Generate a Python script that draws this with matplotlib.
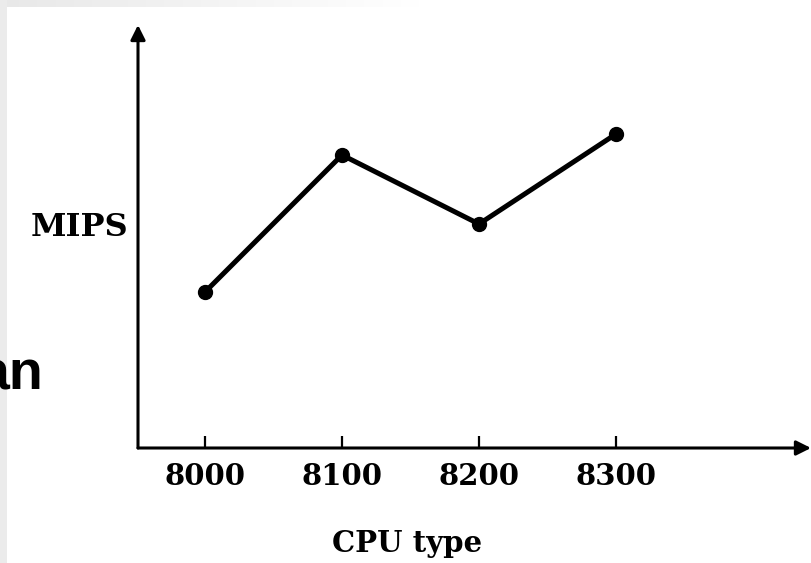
import matplotlib
matplotlib.use("Agg")
import matplotlib.pyplot as plt
import numpy as np
from matplotlib.colors import LinearSegmentedColormap

cpu_types = ["8000", "8100", "8200", "8300"]
mips = [3.12, 5.86, 4.48, 6.28]
x_label = "CPU type"
y_label = "MIPS"
side_text = "an"

W, H = 811, 563
fig = plt.figure(figsize=(W / 100, H / 100), dpi=100)
fig.patch.set_facecolor("white")

# scan-like gray border on left and top
bg = fig.add_axes([0, 0, 1, 1], zorder=-5)
bg.axis("off")
grad = np.linspace(0, 1, 256)[None, :]
cm = LinearSegmentedColormap.from_list("g", ["#e8e8e8", "#ffffff"])
bg.imshow(grad, extent=(0, 420, 7, 0), cmap=cm, aspect="auto")
bg.add_patch(plt.Rectangle((0, 0), 7, H, color="#ebebeb", lw=0))
bg.set_xlim(0, W)
bg.set_ylim(H, 0)
bg.text(43, 390, side_text, ha="right", va="baseline", fontsize=40,
        fontweight="bold", family="Liberation Sans", color="black")

# main axes
x0, x1 = 138, 811
y0, y1 = 448, 25
ax = fig.add_axes([x0 / W, (H - y0) / H, (x1 - x0) / W, (y0 - y1) / H])
ax.set_facecolor("none")
ax.set_xlim((x0 - 205) / 137, (x1 - 205) / 137)
ax.set_ylim(0, (y0 - y1) / 50)

xs = np.arange(len(cpu_types))
ax.plot(xs, mips, color="black", lw=3.6, marker="o", markersize=10,
        solid_joinstyle="round", solid_capstyle="round")

for s in ax.spines.values():
    s.set_visible(False)
ax.annotate("", xy=(1.0, 0), xytext=(0, 0), xycoords="axes fraction",
            arrowprops=dict(arrowstyle="-|>", lw=2.2, color="black",
                            mutation_scale=22, shrinkA=0, shrinkB=0))
ax.annotate("", xy=(0, 1.0), xytext=(0, 0), xycoords="axes fraction",
            arrowprops=dict(arrowstyle="-|>", lw=2.2, color="black",
                            mutation_scale=22, shrinkA=0, shrinkB=0))

ax.set_xticks(xs)
ax.set_xticklabels(cpu_types, fontsize=21, fontweight="bold", family="DejaVu Serif")
ax.tick_params(axis="x", direction="in", length=9, width=1.6, pad=10, color="black")
ax.set_yticks([])

ax.text(-0.015, (y0 - 228) / (y0 - y1), y_label, transform=ax.transAxes,
        ha="right", va="center", fontsize=23, fontweight="bold", family="DejaVu Serif")
ax.text((407 - x0) / (x1 - x0), (y0 - 543) / (y0 - y1), x_label, transform=ax.transAxes,
        ha="center", va="center", fontsize=21, fontweight="bold", family="DejaVu Serif")

fig.savefig("out.png", dpi=100, facecolor="white")
